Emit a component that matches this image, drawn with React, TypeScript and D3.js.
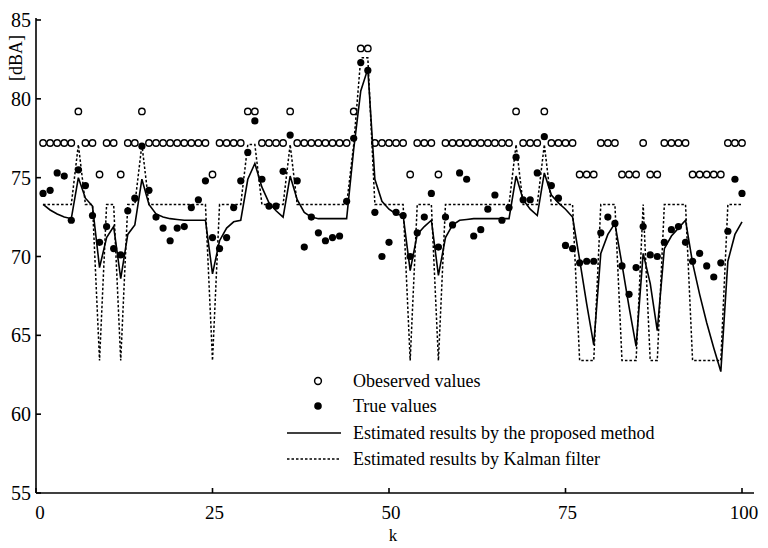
import React, { useEffect, useRef } from 'react';
import * as d3 from 'd3';

// sample index k = 1..100
const steps = d3.range(1, 101);

const observed = [
  77.2, 77.2, 77.2, 77.2, 77.2, 79.2, 77.2, 77.2, 75.2, 77.2,
  77.2, 75.2, 77.2, 77.2, 79.2, 77.2, 77.2, 77.2, 77.2, 77.2,
  77.2, 77.2, 77.2, 77.2, 75.2, 77.2, 77.2, 77.2, 77.2, 79.2,
  79.2, 77.2, 77.2, 77.2, 77.2, 79.2, 77.2, 77.2, 77.2, 77.2,
  77.2, 77.2, 77.2, 77.2, 79.2, 83.2, 83.2, 77.2, 77.2, 77.2,
  77.2, 77.2, 75.2, 77.2, 77.2, 77.2, 75.2, 77.2, 77.2, 77.2,
  77.2, 77.2, 77.2, 77.2, 77.2, 77.2, 77.2, 79.2, 77.2, 77.2,
  77.2, 79.2, 77.2, 77.2, 77.2, 77.2, 75.2, 75.2, 75.2, 77.2,
  77.2, 77.2, 75.2, 75.2, 75.2, 77.2, 75.2, 75.2, 77.2, 77.2,
  77.2, 77.2, 75.2, 75.2, 75.2, 75.2, 75.2, 77.2, 77.2, 77.2,
];

const trueValues = [
  74.0, 74.2, 75.3, 75.1, 72.3, 75.5, 74.5, 72.6, 70.9, 71.9,
  70.5, 70.1, 72.9, 73.7, 77.0, 74.2, 72.5, 71.8, 71.0, 71.8,
  71.9, 73.1, 73.6, 74.8, 71.2, 70.5, 71.2, 73.1, 74.8, 76.6,
  78.6, 74.9, 73.2, 73.2, 75.4, 77.7, 74.8, 70.6, 72.5, 71.5,
  71.0, 71.2, 71.3, 73.5, 77.5, 82.3, 81.8, 72.8, 70.0, 70.9,
  72.8, 72.6, 70.0, 71.5, 72.5, 74.0, 70.6, 72.5, 72.0, 75.3,
  74.9, 71.3, 71.7, 73.0, 73.9, 72.3, 73.1, 76.3, 73.6, 73.6,
  75.3, 77.6, 74.5, 73.7, 70.7, 70.5, 69.6, 69.7, 69.7, 71.5,
  72.5, 72.1, 69.4, 67.6, 69.3, 71.9, 70.1, 70.0, 70.9, 71.7,
  71.9, 70.9, 69.7, 70.2, 69.4, 68.7, 69.6, 71.6, 74.9, 74.0,
];

const proposed = [
  73.3, 72.95, 72.7, 72.5, 72.4, 75.0, 73.7, 73.2, 69.3, 71.2,
  71.9, 68.6, 71.4, 72.0, 74.9, 73.3, 72.7, 72.5, 72.4, 72.35,
  72.3, 72.3, 72.3, 72.3, 68.9, 71.0, 71.8, 72.2, 72.3, 74.9,
  75.9, 74.4, 73.4, 72.9, 72.5, 75.1, 73.6, 72.8, 72.5, 72.4,
  72.4, 72.4, 72.4, 72.4, 76.8, 80.5, 81.9, 74.9, 73.5, 73.0,
  72.7, 72.6, 69.1, 71.4, 71.9, 72.3, 68.8, 71.2, 72.0, 72.3,
  72.35, 72.4, 72.4, 72.4, 72.4, 72.4, 72.4, 75.1, 73.6, 73.0,
  72.6, 75.3, 73.9, 73.4, 73.0, 72.5, 69.8, 67.0, 64.4, 70.2,
  71.4, 72.1, 69.5, 66.8, 64.3, 70.2, 68.3, 65.3, 70.5, 71.3,
  71.8, 72.3, 69.6, 67.6, 65.8, 64.2, 62.7, 69.7, 71.4, 72.2,
];

const kalman = [
  73.3, 73.3, 73.3, 73.3, 73.3, 77.1, 73.3, 73.3, 63.4, 73.3,
  73.3, 63.4, 73.3, 73.3, 77.1, 73.3, 73.3, 73.3, 73.3, 73.3,
  73.3, 73.3, 73.3, 73.3, 63.4, 73.3, 73.3, 73.3, 73.3, 77.1,
  77.1, 73.3, 73.3, 73.3, 73.3, 77.1, 73.3, 73.3, 73.3, 73.3,
  73.3, 73.3, 73.3, 73.3, 77.1, 82.6, 82.6, 73.3, 73.3, 73.3,
  73.3, 73.3, 63.4, 73.3, 73.3, 73.3, 63.4, 73.3, 73.3, 73.3,
  73.3, 73.3, 73.3, 73.3, 73.3, 73.3, 73.3, 77.1, 73.3, 73.3,
  73.3, 77.1, 73.3, 73.3, 73.3, 73.3, 63.4, 63.4, 63.4, 73.3,
  73.3, 73.3, 63.4, 63.4, 63.4, 73.3, 63.4, 63.4, 73.3, 73.3,
  73.3, 73.3, 63.4, 63.4, 63.4, 63.4, 63.4, 73.3, 73.3, 73.3,
];

const xTicks = [0, 25, 50, 75, 100];
const yTicks = [55, 60, 65, 70, 75, 80, 85];

const legendLabels = [
  'Obeserved values',
  'True values',
  'Estimated results by the proposed method',
  'Estimated results by Kalman filter',
];

const FONT = '"Liberation Serif", "Times New Roman", serif';

const App = () => {
  const ref = useRef<SVGSVGElement | null>(null);

  useEffect(() => {
    const svg = d3.select(ref.current);
    svg.selectAll('*').remove();

    const x = d3.scaleLinear().domain([0, 100]).range([36, 742]);
    const y = d3.scaleLinear().domain([55, 85]).range([493, 20]);

    svg.append('rect').attr('width', 768).attr('height', 548).attr('fill', '#fff');

    // axes
    const axis = svg.append('g').attr('stroke', '#000').attr('stroke-width', 1.6);
    axis.append('line').attr('x1', x(0)).attr('x2', x(0)).attr('y1', y(55)).attr('y2', y(85) - 2);
    axis.append('line').attr('x1', x(0)).attr('x2', x(100) + 12).attr('y1', y(55)).attr('y2', y(55));

    yTicks.forEach(t => {
      axis.append('line').attr('x1', x(0)).attr('x2', x(0) + 5).attr('y1', y(t)).attr('y2', y(t));
      svg.append('text')
        .attr('x', 31).attr('y', y(t)).attr('dy', '0.35em')
        .attr('text-anchor', 'end')
        .style('font-family', FONT).style('font-size', '20px')
        .text(t);
    });

    xTicks.forEach(t => {
      axis.append('line').attr('x1', x(t)).attr('x2', x(t)).attr('y1', y(55)).attr('y2', y(55) - 5);
      svg.append('text')
        .attr('x', x(t) + (t === 0 ? 4 : 2)).attr('y', 519)
        .attr('text-anchor', 'middle')
        .style('font-family', FONT).style('font-size', '19px')
        .text(t);
    });

    svg.append('text')
      .attr('x', 393).attr('y', 541)
      .attr('text-anchor', 'middle')
      .style('font-family', FONT).style('font-size', '17px')
      .text('k');

    svg.append('text')
      .attr('transform', 'translate(22,58) rotate(-90)')
      .attr('text-anchor', 'middle')
      .style('font-family', FONT).style('font-size', '18px')
      .text('[dBA]');

    // lines
    const line = d3.line<number>()
      .x((_, i) => x(steps[i]))
      .y(d => y(d));

    svg.append('path')
      .datum(kalman)
      .attr('d', line)
      .attr('fill', 'none')
      .attr('stroke', '#000')
      .attr('stroke-width', 1.5)
      .attr('stroke-dasharray', '2.5,2');

    svg.append('path')
      .datum(proposed)
      .attr('d', line)
      .attr('fill', 'none')
      .attr('stroke', '#000')
      .attr('stroke-width', 1.6);

    // points
    svg.append('g').selectAll('circle')
      .data(observed)
      .enter()
      .append('circle')
        .attr('cx', (_, i) => x(steps[i]))
        .attr('cy', d => y(d))
        .attr('r', 3.2)
        .attr('fill', 'none')
        .attr('stroke', '#000')
        .attr('stroke-width', 1.4);

    svg.append('g').selectAll('circle')
      .data(trueValues)
      .enter()
      .append('circle')
        .attr('cx', (_, i) => x(steps[i]))
        .attr('cy', d => y(d))
        .attr('r', 3.6)
        .attr('fill', '#000');

    // legend
    const lg = svg.append('g');
    const rowY = [381, 406, 433, 459];
    lg.append('circle').attr('cx', 318).attr('cy', rowY[0]).attr('r', 3.4)
      .attr('fill', 'none').attr('stroke', '#000').attr('stroke-width', 1.5);
    lg.append('circle').attr('cx', 318).attr('cy', rowY[1]).attr('r', 3.8).attr('fill', '#000');
    lg.append('line').attr('x1', 287).attr('x2', 341).attr('y1', rowY[2]).attr('y2', rowY[2])
      .attr('stroke', '#000').attr('stroke-width', 1.5);
    lg.append('line').attr('x1', 287).attr('x2', 341).attr('y1', rowY[3]).attr('y2', rowY[3])
      .attr('stroke', '#000').attr('stroke-width', 1.5).attr('stroke-dasharray', '2.5,2');
    legendLabels.forEach((label, i) => {
      lg.append('text')
        .attr('x', 353).attr('y', rowY[i]).attr('dy', '0.35em')
        .style('font-family', FONT).style('font-size', '18px')
        .text(label);
    });
  }, []);

  return (
    <svg
      ref={ref}
      width={768}
      height={548}
      style={{ position: 'absolute', left: 0, top: 0, background: '#fff' }}
    />
  );
};

export default App;
